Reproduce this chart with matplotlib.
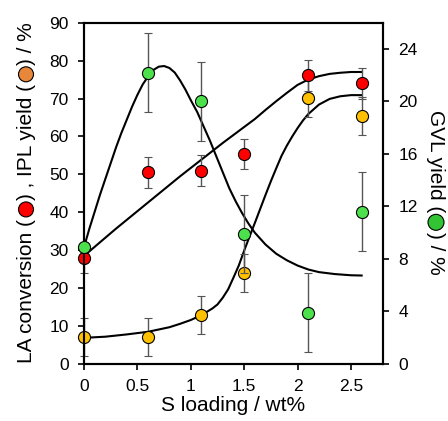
import numpy as np
import matplotlib.pyplot as plt
from matplotlib.patches import Ellipse
from matplotlib.ticker import FuncFormatter

plt.rcParams['font.family'] = ['Liberation Sans', 'DejaVu Sans']

# measured points
s_loading = [0, 0.6, 1.1, 1.5, 2.1, 2.6]
la_conv = [28, 50.5, 51, 55.3, 76.1, 74]
la_err = [4, 4, 4, 4, 4, 4]
ipl_yield = [7, 7, 13, 24.1, 70.1, 65.5]
ipl_err = [5, 5, 5, 5, 5, 5]
gvl_yield = [8.9, 22.2, 20.0, 9.9, 3.9, 11.6]
gvl_err = [0, 3, 3, 3, 3, 3]

# fitted curves
la_fit_x = [0, 0.1, 0.2, 0.3, 0.4, 0.5, 0.6, 0.7, 0.8, 0.9, 1.0, 1.1, 1.2, 1.3,
            1.4, 1.5, 1.6, 1.7, 1.8, 1.9, 2.0, 2.1, 2.2, 2.3, 2.4, 2.5, 2.6]
la_fit_y = [28.5, 30.9, 33.3, 35.7, 38.0, 40.3, 42.6, 44.9, 47.2, 49.5, 51.7, 53.9, 56.1, 58.3,
            60.4, 62.5, 64.6, 67.0, 69.3, 71.5, 73.6, 75.0, 75.9, 76.5, 76.8, 77.0, 77.0]

ipl_fit_x = [0, 0.2, 0.4, 0.6, 0.8, 0.9, 1.0, 1.1, 1.2, 1.25, 1.3, 1.35, 1.4, 1.45, 1.5,
             1.55, 1.6, 1.65, 1.7, 1.75, 1.8, 1.85, 1.9, 1.95, 2.0, 2.05, 2.1, 2.2, 2.3,
             2.4, 2.5, 2.6]
ipl_fit_y = [6.9, 7.2, 7.8, 8.5, 9.7, 10.6, 11.6, 12.9, 14.6, 15.7, 17.5, 19.7, 22.8, 26.0, 29.9,
             33.6, 37.2, 40.9, 44.6, 48.2, 51.6, 54.9, 57.6, 60.0, 62.2, 64.2, 65.9, 68.4, 69.9,
             70.6, 70.9, 70.9]

gvl_fit_x = [0, 0.05, 0.1, 0.15, 0.2, 0.25, 0.3, 0.35, 0.4, 0.45, 0.5, 0.55, 0.6, 0.65,
             0.7, 0.75, 0.8, 0.85, 0.9, 0.95, 1.0, 1.06, 1.12, 1.18, 1.24, 1.3, 1.36, 1.42,
             1.48, 1.54, 1.6, 1.7, 1.8, 1.9, 2.0, 2.1, 2.2, 2.35, 2.5, 2.6]
gvl_fit_y = [8.9, 10.3, 11.6, 12.9, 14.1, 15.3, 16.5, 17.6, 18.6, 19.6, 20.5, 21.3, 21.9, 22.4,
             22.65, 22.7, 22.55, 22.2, 21.6, 20.9, 20.1, 19.2, 18.1, 17.0, 15.8, 14.6, 13.4, 12.4,
             11.5, 10.7, 10.0, 9.1, 8.4, 7.9, 7.5, 7.2, 7.0, 6.85, 6.76, 6.74]

red = '#ff0000'
amber = '#ffc000'
green = '#4de04d'
err_col = '#555555'

fig = plt.figure(figsize=(4.48, 4.21), dpi=100)
ax = fig.add_axes([84 / 448, 57 / 421, 299 / 448, 341.3 / 421])
ax2 = ax.twinx()

ax.set_xlim(0, 2.8)
ax.set_ylim(0, 90)
ax2.set_ylim(0, 26)

ax.plot(la_fit_x, la_fit_y, color='black', lw=1.5, zorder=2)
ax.plot(ipl_fit_x, ipl_fit_y, color='black', lw=1.5, zorder=2)
ax2.plot(gvl_fit_x, gvl_fit_y, color='black', lw=1.5, zorder=2)

mk = dict(fmt='o', ms=8.7, mec='black', mew=0.8, ecolor=err_col,
          elinewidth=1.0, capsize=3.2, capthick=1.0, clip_on=False)
ax.errorbar(s_loading, ipl_yield, yerr=ipl_err, mfc=amber, zorder=3, **mk)
ax.errorbar(s_loading, la_conv, yerr=la_err, mfc=red, zorder=4, **mk)
ax2.errorbar(s_loading, gvl_yield, yerr=gvl_err, mfc=green, zorder=5, **mk)

for a in (ax, ax2):
    for sp in a.spines.values():
        sp.set_linewidth(1.5)

ax.set_xticks([0, 0.5, 1, 1.5, 2, 2.5])
ax.xaxis.set_major_formatter(FuncFormatter(lambda v, p: f'{v:g}'))
ax.set_yticks(np.arange(0, 91, 10))
ax2.set_yticks(np.arange(0, 25, 4))
ax.tick_params(axis='both', direction='out', length=4, width=1.2, labelsize=12.5)
ax.tick_params(axis='y', pad=7)
ax.tick_params(axis='x', pad=7)
ax2.tick_params(axis='y', direction='out', length=4, width=1.2, labelsize=12.5, pad=7)

ax.set_xlabel('S loading / wt%', fontsize=15, labelpad=1)

fig.canvas.draw()
renderer = fig.canvas.get_renderer()
W, H = fig.bbox.width, fig.bbox.height


def stacked_label(x_px, yc_px, pieces, rot, size, d=15, gap=3):
    # lay text pieces and coloured circles one after another along a vertical label
    sizes = []
    arts = []
    for kind, val in pieces:
        if kind == 'text':
            t = fig.text(0, 0, val, rotation=rot, fontsize=size,
                         ha='center', va='center')
            sizes.append(t.get_window_extent(renderer).height)
            arts.append(t)
        else:
            sizes.append(d + 2 * gap)
            arts.append(val)
    total = sum(sizes)
    sign = 1 if rot == 90 else -1
    pos = yc_px - sign * total / 2
    for art, L in zip(arts, sizes):
        c = pos + sign * L / 2
        if isinstance(art, str):
            e = Ellipse((x_px / W, c / H), d / W, d / H, transform=fig.transFigure,
                        fc=art, ec='black', lw=0.8)
            fig.add_artist(e)
        else:
            art.set_position((x_px / W, c / H))
        pos += sign * L
    return total


stacked_label(26, 421 - 192.5, [('text', 'LA conversion ('), ('circle', red),
                                ('text', ') , IPL yield ('), ('circle', '#e8873a'),
                                ('text', ') / %')], 90, 15, d=15, gap=2)
stacked_label(436, 421 - 192.5, [('text', 'GVL yield ('), ('circle', '#33c433'),
                                 ('text', ') / %')], -90, 15, d=16, gap=1.5)

fig.savefig('out.png', dpi=100)
